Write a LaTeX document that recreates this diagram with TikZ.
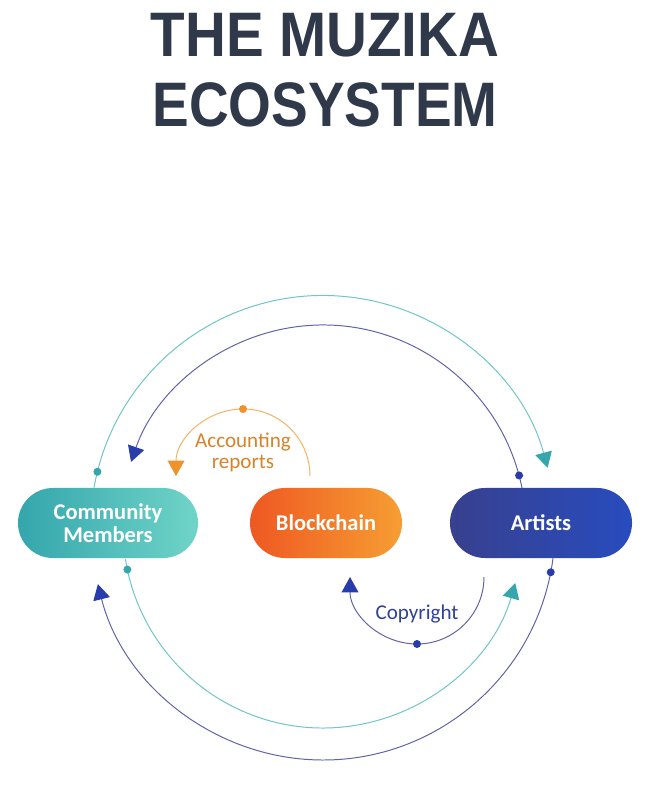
\documentclass[tikz,border=0pt]{standalone}
\usepackage{fontspec}
\setmainfont{Carlito}
\newfontfamily\headfont{Liberation Sans}
\usepackage{graphicx}
\usepackage{tikz}
\usetikzlibrary{arrows.meta,positioning}
\definecolor{ctitle}{RGB}{47,57,74}
\definecolor{cteal}{RGB}{110,198,200}
\definecolor{ctealhead}{RGB}{52,166,172}
\definecolor{cnavy}{RGB}{98,98,166}
\definecolor{cnavyhead}{RGB}{40,60,172}
\definecolor{corange}{RGB}{242,180,100}
\definecolor{corangehead}{RGB}{240,146,44}
\definecolor{ccopy}{RGB}{48,66,150}
\tikzset{
  pill/.style={rectangle,rounded corners=0.875cm,minimum height=1.75cm,
    align=center,text=white,inner sep=0pt,
    font=\fontsize{16}{16}\selectfont\bfseries},
  ring/.style={line width=0.7pt},
  % arrow heads are a shade darker than the rings
  tealarr/.style={ring,cteal,-{Triangle[length=11pt,width=12pt,color=ctealhead]}},
  navyarr/.style={ring,cnavy,-{Triangle[length=11pt,width=12pt,color=cnavyhead]}},
  orangearr/.style={ring,corange,-{Triangle[length=11pt,width=12pt,color=corangehead]}},
  copyarr/.style={ring,cnavy,-{Triangle[length=11pt,width=12pt,color=cnavyhead]}},
  lab/.style={font=\fontsize{15}{15}\selectfont,align=center}
}
\begin{document}
\begin{tikzpicture}[x=0.025cm,y=0.025cm]
 \fill[white] (0,0) rectangle (649,790);
 \useasboundingbox (0,0) rectangle (649,790);
 % title
 \node[anchor=base,text=ctitle,font=\headfont\bfseries\fontsize{44.7}{50}\selectfont]
   (title1) at (325,733) {\scalebox{0.9}[1]{THE MUZIKA}};
 \node[anchor=base,text=ctitle,font=\headfont\bfseries\fontsize{44.7}{50}\selectfont]
   (title2) at (325,663) {\scalebox{0.875}[1]{ECOSYSTEM}};
 % all four big rings share one centre
 \coordinate (hub) at (323,262);
 \draw[tealarr] (hub) ++(170:232.5) arc[start angle=170,end angle=15,radius=232.5];
 \fill[ctealhead] (hub) ++(166:232.5) circle (4);
 \draw[navyarr] (hub) ++(11:203) arc[start angle=11,end angle=161,radius=203];
 \fill[cnavyhead] (hub) ++(15:203) circle (4);
 \draw[tealarr] (hub) ++(189:200) arc[start angle=189,end angle=344,radius=200];
 \fill[ctealhead] (hub) ++(192:200) circle (4);
 \draw[navyarr] (hub) ++(-7.5:232) arc[start angle=-7.5,end angle=-166,radius=232];
 \fill[cnavyhead] (hub) ++(-11:232) circle (4);
 % the three parties
 \node[pill,minimum width=4.5cm,left color=ctealhead,
   right color={rgb,255:red,112;green,212;blue,200}]
   (members) at (108,267) {Community\\Members};
 \node[pill,minimum width=3.8cm,left color={rgb,255:red,238;green,88;blue,34},
   right color={rgb,255:red,246;green,158;blue,50}]
   (chain) at (326,267) {Blockchain};
 \node[pill,minimum width=4.55cm,left color={rgb,255:red,56;green,64;blue,142},
   right color={rgb,255:red,40;green,76;blue,190}]
   (artists) at (541,267) {Artists};
 % small half rings
 \coordinate (acc) at (243,314);
 \draw[orangearr] (acc) ++(0:67) arc[start angle=0,end angle=180,radius=67];
 \fill[corangehead] (acc) ++(90:67) circle (4);
 \node[lab,text=corangehead!90!black] (acclab) at (243,338) {Accounting\\reports};
 \coordinate (copy) at (417,213);
 \draw[copyarr] (copy) ++(0:67) arc[start angle=0,end angle=-180,radius=67];
 \fill[cnavyhead] (copy) ++(-90:67) circle (4);
 \node[lab,anchor=base,text=ccopy] (copylab) at (417,170) {Copyright};
\end{tikzpicture}
\end{document}
